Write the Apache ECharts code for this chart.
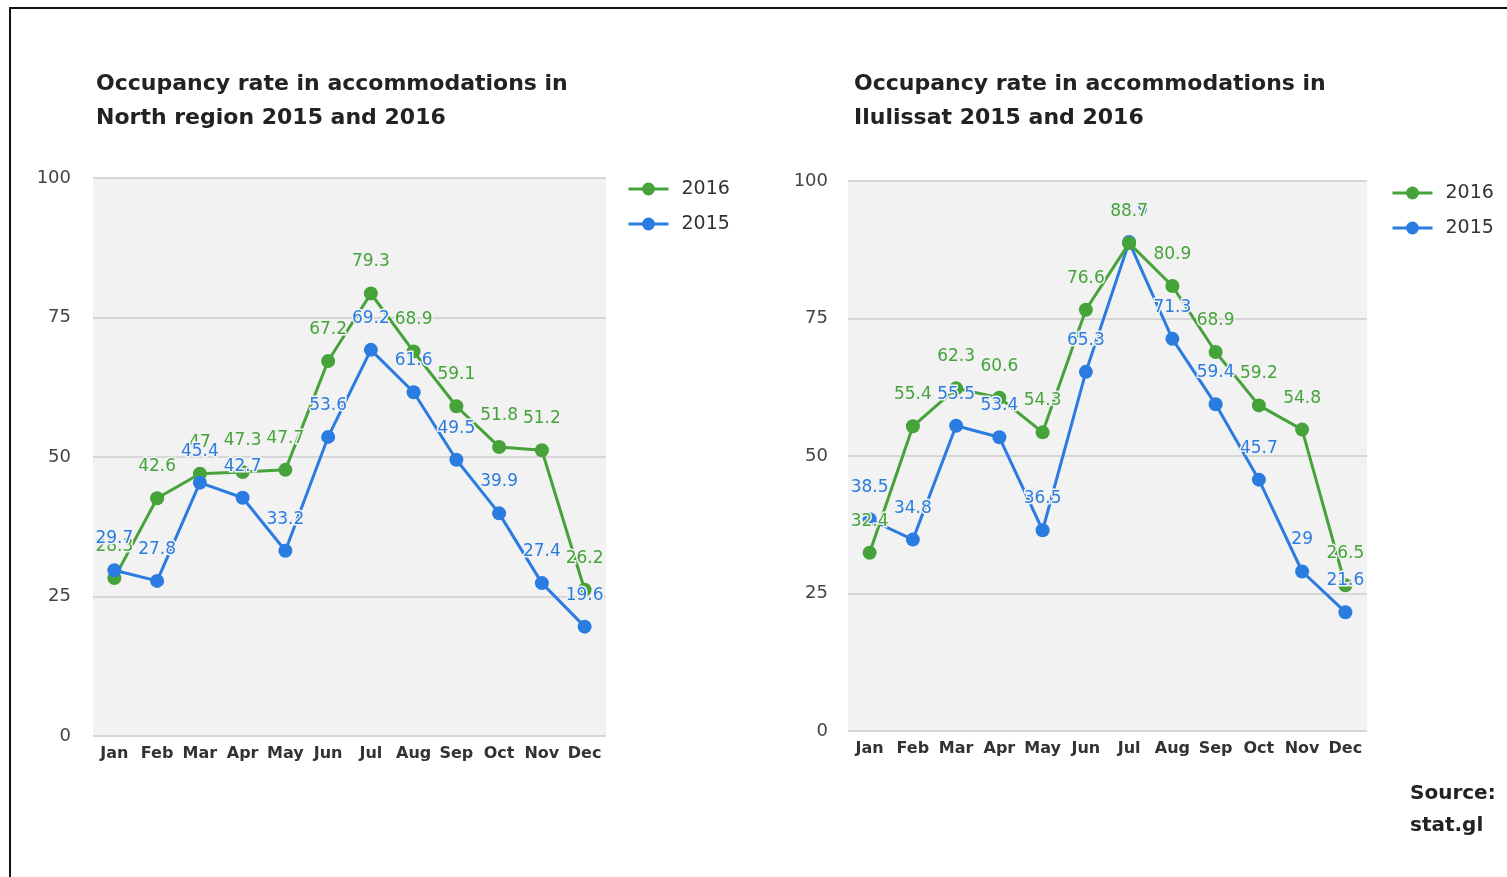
<!DOCTYPE html>
<html>
<head>
<meta charset="utf-8">
<title>Occupancy rate in accommodations</title>
<script src="https://cdn.jsdelivr.net/npm/echarts@6/dist/echarts.min.js"></script>
<style>
  html, body { margin: 0; padding: 0; background: #ffffff; }
  #frame { position: absolute; left: 9px; top: 7px; width: 1600px; height: 1000px; border: 2px solid #111; box-sizing: border-box; }
  #chart { position: absolute; left: 0; top: 0; width: 1507px; height: 877px; }
</style>
</head>
<body>
<div id="frame"></div>
<div id="chart"></div>
<script>
// Month categories shared by both panels
const months = ['Jan', 'Feb', 'Mar', 'Apr', 'May', 'Jun', 'Jul', 'Aug', 'Sep', 'Oct', 'Nov', 'Dec'];

// North region occupancy rate (%)
const north2016 = [28.3, 42.6, 47, 47.3, 47.7, 67.2, 79.3, 68.9, 59.1, 51.8, 51.2, 26.2];
const north2015 = [29.7, 27.8, 45.4, 42.7, 33.2, 53.6, 69.2, 61.6, 49.5, 39.9, 27.4, 19.6];

// Ilulissat occupancy rate (%)
const ilulissat2016 = [32.4, 55.4, 62.3, 60.6, 54.3, 76.6, 88.7, 80.9, 68.9, 59.2, 54.8, 26.5];
const ilulissat2015 = [38.5, 34.8, 55.5, 53.4, 36.5, 65.3, 88.9, 71.3, 59.4, 45.7, 29, 21.6];

const titles = [
  'Occupancy rate in accommodations in\nNorth region 2015 and 2016',
  'Occupancy rate in accommodations in\nIlulissat 2015 and 2016'
];
const yTicks = [0, 25, 50, 75, 100];

const GREEN = '#45a33a';
const BLUE = '#2b7ce0';
const PLOT_BG = '#f2f2f2';
const FONT = '"DejaVu Sans", "Liberation Sans", Arial, sans-serif';

const chart = echarts.init(document.getElementById('chart'));

const grids = [
  { left: 93, top: 178, width: 513, height: 558 },
  { left: 848, top: 181, width: 519, height: 550 }
];

function lineSeries(name, color, data, idx) {
  return {
    name: name,
    type: 'line',
    xAxisIndex: idx,
    yAxisIndex: idx,
    data: data,
    color: color,
    symbol: 'circle',
    symbolSize: 14,
    lineStyle: { width: 3, color: color },
    itemStyle: { color: color },
    label: {
      show: true,
      position: 'top',
      distance: 16,
      color: color,
      fontSize: 17,
      fontFamily: FONT,
      textBorderColor: PLOT_BG,
      textBorderWidth: 3
    },
    emphasis: { disabled: true },
    animation: false
  };
}

const option = {
  animation: false,
  title: titles.map((t, i) => ({
    text: t,
    left: i === 0 ? 91 : 849,
    top: 62,
    textStyle: { fontSize: 22, fontWeight: 'bold', color: '#222', lineHeight: 34, fontFamily: FONT }
  })),
  legend: [
    { left: 622, top: 174 },
    { left: 1386, top: 178 }
  ].map(pos => ({
    data: ['2016', '2015'],
    orient: 'vertical',
    left: pos.left,
    top: pos.top,
    itemWidth: 40,
    itemHeight: 16,
    itemGap: 15,
    selectedMode: false,
    lineStyle: { width: 3 },
    textStyle: { fontSize: 19, color: '#333', lineHeight: 20, fontFamily: FONT, padding: [0, 0, 0, 8] }
  })),
  grid: grids.map(g => Object.assign({ show: true, backgroundColor: PLOT_BG, borderWidth: 0 }, g)),
  xAxis: [0, 1].map(i => ({
    type: 'category',
    gridIndex: i,
    data: months,
    boundaryGap: true,
    axisLine: { show: false },
    axisTick: { show: false },
    axisLabel: { color: '#333', fontWeight: 'bold', fontSize: 16, margin: 10, fontFamily: FONT, interval: 0 }
  })),
  yAxis: [0, 1].map(i => ({
    type: 'value',
    gridIndex: i,
    min: yTicks[0],
    max: yTicks[yTicks.length - 1],
    interval: yTicks[1] - yTicks[0],
    axisLine: { show: false },
    axisTick: { show: false },
    axisLabel: { color: '#444', fontSize: 18, margin: i === 0 ? 22 : 20, fontFamily: FONT },
    splitLine: { show: true, lineStyle: { color: '#d6d6d6', width: 2 } }
  })),
  series: [
    // North: 2015 drawn over 2016
    lineSeries('2016', GREEN, north2016, 0),
    lineSeries('2015', BLUE, north2015, 0),
    // Ilulissat: 2016 drawn over 2015
    lineSeries('2015', BLUE, ilulissat2015, 1),
    lineSeries('2016', GREEN, ilulissat2016, 1)
  ],
  graphic: [
    {
      type: 'text',
      left: 1410,
      top: 778,
      style: { text: 'Source:\nstat.gl', lineHeight: 32, fill: '#222', font: 'bold 20px ' + FONT }
    }
  ]
};

chart.setOption(option);
</script>
</body>
</html>
